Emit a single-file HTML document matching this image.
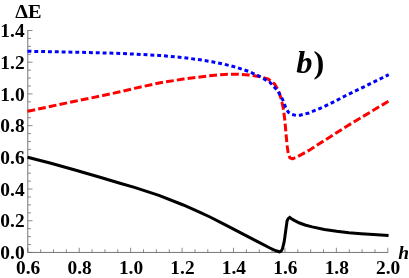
<!DOCTYPE html>
<html><head><meta charset="utf-8"><title>plot b</title>
<style>
html,body{margin:0;padding:0;background:#fff;}
body{width:409px;height:278px;overflow:hidden;}
svg{display:block;will-change:transform;}
text{font-family:"Liberation Serif",serif;font-weight:bold;font-size:19.4px;fill:#000;}
</style></head><body>
<svg width="409" height="278" viewBox="0 0 409 278">
<rect width="409" height="278" fill="#fff"/>
<path d="M27.8,30.1 V252.45 H388.2" fill="none" stroke="#666" stroke-width="0.9"/>
<path d="M27.80,252.45 V247.75 M40.66,252.45 V249.25 M53.51,252.45 V249.25 M66.37,252.45 V249.25 M79.23,252.45 V247.75 M92.09,252.45 V249.25 M104.94,252.45 V249.25 M117.80,252.45 V249.25 M130.66,252.45 V247.75 M143.51,252.45 V249.25 M156.37,252.45 V249.25 M169.23,252.45 V249.25 M182.09,252.45 V247.75 M194.94,252.45 V249.25 M207.80,252.45 V249.25 M220.66,252.45 V249.25 M233.51,252.45 V247.75 M246.37,252.45 V249.25 M259.23,252.45 V249.25 M272.09,252.45 V249.25 M284.94,252.45 V247.75 M297.80,252.45 V249.25 M310.66,252.45 V249.25 M323.51,252.45 V249.25 M336.37,252.45 V247.75 M349.23,252.45 V249.25 M362.09,252.45 V249.25 M374.94,252.45 V249.25 M387.80,252.45 V247.75 M27.8,252.45 H32.5 M27.8,244.52 H31.0 M27.8,236.60 H31.0 M27.8,228.67 H31.0 M27.8,220.74 H32.5 M27.8,212.82 H31.0 M27.8,204.89 H31.0 M27.8,196.96 H31.0 M27.8,189.04 H32.5 M27.8,181.11 H31.0 M27.8,173.18 H31.0 M27.8,165.26 H31.0 M27.8,157.33 H32.5 M27.8,149.40 H31.0 M27.8,141.47 H31.0 M27.8,133.55 H31.0 M27.8,125.62 H32.5 M27.8,117.69 H31.0 M27.8,109.77 H31.0 M27.8,101.84 H31.0 M27.8,93.91 H32.5 M27.8,85.99 H31.0 M27.8,78.06 H31.0 M27.8,70.13 H31.0 M27.8,62.21 H32.5 M27.8,54.28 H31.0 M27.8,46.35 H31.0 M27.8,38.43 H31.0 M27.8,30.50 H32.5" fill="none" stroke="#666" stroke-width="0.75"/>
<path d="M27.5,111.4 L50.0,106.5 L75.0,101.2 L104.0,95.3 L120.0,91.8 L134.4,88.4 L158.9,83.0 L183.3,79.1 L200.0,77.0 L212.2,75.5 L224.4,74.4 L236.7,74.2 L248.9,74.9 L261.1,76.9 L268.5,79.3 L274.6,84.0 L278.7,91.0 L281.4,99.9 L283.2,108.0 L284.2,115.0 L284.9,121.0 L286.2,135.9 L287.3,146.7 L288.3,154.0 L289.9,157.8 L292.5,158.8 L298.1,156.4 L308.9,150.4 L319.6,143.5 L330.0,137.0 L346.0,126.7 L364.0,115.9 L382.0,105.1 L388.7,101.1" fill="none" stroke="#ff0000" stroke-width="3" stroke-dasharray="7.8 3.1" stroke-linejoin="round"/>
<path d="M27.5,51.3 L50.0,51.7 L75.0,52.2 L100.0,52.8 L120.0,53.4 L134.4,54.1 L158.9,55.4 L183.3,57.6 L200.0,59.8 L212.2,61.8 L224.4,64.3 L236.7,67.4 L248.9,71.5 L259.9,76.5 L269.8,82.2 L277.7,90.7 L282.7,99.8 L285.6,107.3 L288.3,112.2 L291.7,114.5 L296.5,115.5 L300.2,115.2 L308.9,113.0 L317.6,109.4 L329.1,104.3 L346.0,95.5 L364.0,86.8 L382.0,78.0 L388.7,74.6" fill="none" stroke="#0000ff" stroke-width="3" stroke-dasharray="3.9 2.93" stroke-linejoin="round"/>
<path d="M27.5,157.2 L50.0,163.0 L75.0,170.0 L100.0,177.2 L120.0,183.3 L134.4,187.4 L158.9,195.4 L183.3,205.0 L200.0,212.3 L210.0,217.0 L224.4,224.3 L248.9,237.1 L260.0,242.8 L269.9,248.0 L276.0,250.8 L279.4,251.8 L281.2,251.0 L282.4,249.0 L284.2,241.6 L285.7,230.7 L287.1,220.8 L288.2,218.6 L289.7,217.4 L291.5,218.7 L294.7,220.6 L299.6,223.0 L305.0,225.0 L312.2,226.9 L324.4,229.5 L336.7,231.3 L348.9,232.7 L361.1,233.7 L373.3,234.6 L388.6,235.4" fill="none" stroke="#000" stroke-width="3" stroke-linejoin="miter"/>
<text x="28.20" y="274" text-anchor="middle">0.6</text>
<text x="79.63" y="274" text-anchor="middle">0.8</text>
<text x="131.06" y="274" text-anchor="middle">1.0</text>
<text x="182.49" y="274" text-anchor="middle">1.2</text>
<text x="233.91" y="274" text-anchor="middle">1.4</text>
<text x="285.34" y="274" text-anchor="middle">1.6</text>
<text x="336.77" y="274" text-anchor="middle">1.8</text>
<text x="388.20" y="274" text-anchor="middle">2.0</text>
<text x="24.6" y="259.20" text-anchor="end">0.0</text>
<text x="24.6" y="227.49" text-anchor="end">0.2</text>
<text x="24.6" y="195.79" text-anchor="end">0.4</text>
<text x="24.6" y="164.08" text-anchor="end">0.6</text>
<text x="24.6" y="132.37" text-anchor="end">0.8</text>
<text x="24.6" y="100.66" text-anchor="end">1.0</text>
<text x="24.6" y="68.96" text-anchor="end">1.2</text>
<text x="24.6" y="37.25" text-anchor="end">1.4</text>

<text transform="translate(15.3,17.7) scale(1.05,1)">ΔE</text>
<text x="296.3" y="73" style="font-size:32.5px"><tspan style="font-style:italic">b</tspan><tspan dx="1">)</tspan></text>
<text x="398.2" y="259.4" style="font-style:italic;font-size:19.4px">h</text>
</svg>
</body></html>
